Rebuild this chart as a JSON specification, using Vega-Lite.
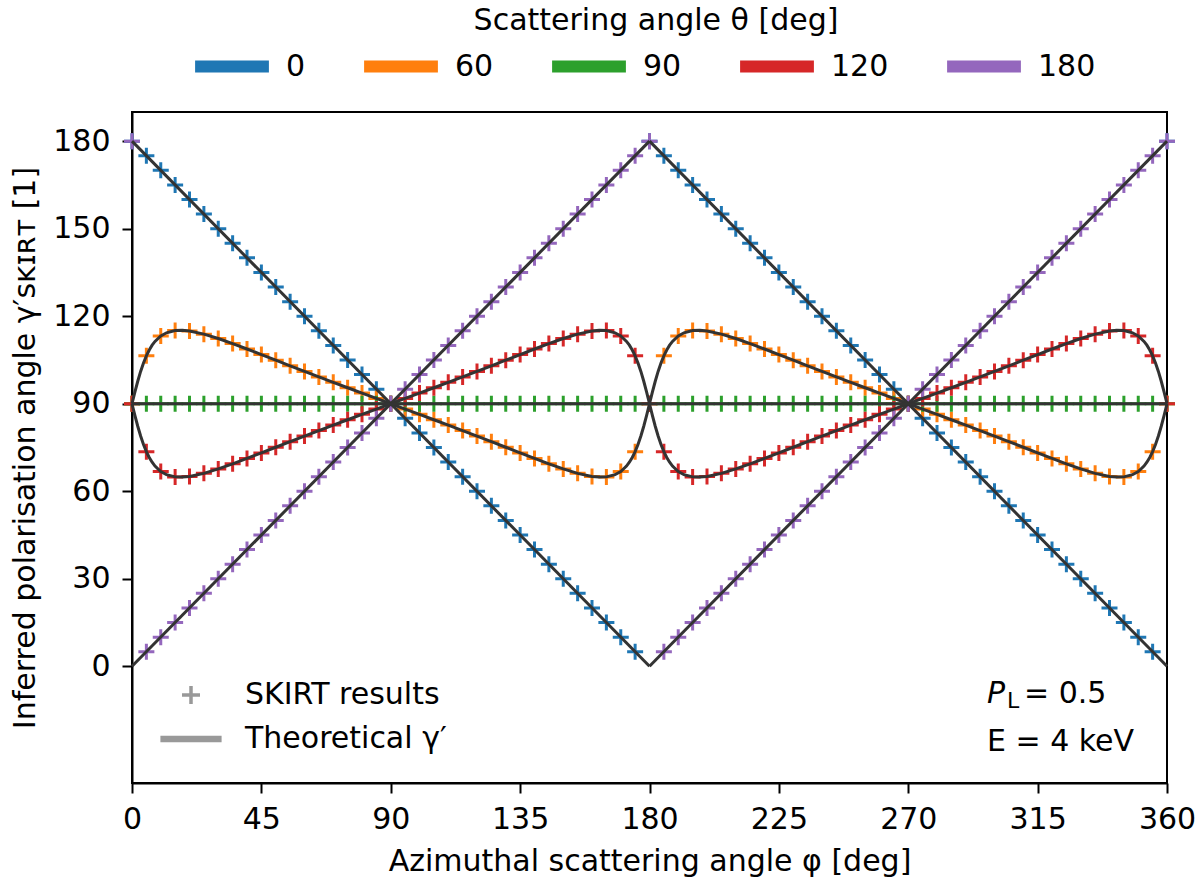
{
 "$schema": "https://vega.github.io/schema/vega-lite/v6.json",
 "width": 1035,
 "height": 671,
 "autosize": {"type": "none"},
 "padding": {"left": 132, "top": 112, "right": 33, "bottom": 101},
 "background": "#ffffff",
 "config": {
  "font": "DejaVu Sans",
  "view": {"stroke": "#000000", "strokeWidth": 2},
  "axis": {"grid": false, "domainColor": "#000000", "domainWidth": 2, "tickColor": "#000000", "tickWidth": 2, "tickSize": 10,
           "labelFontSize": 30, "labelColor": "#000000", "labelFont": "DejaVu Sans", "labelFlush": false, "labelOverlap": false,
           "titleFontSize": 30, "titleFontWeight": "normal", "titleColor": "#000000", "titleFont": "DejaVu Sans"},
  "legend": {"labelFont": "DejaVu Sans", "titleFont": "DejaVu Sans", "labelColor": "#000000", "titleColor": "#000000"}
 },
 "datasets": {
  "skirt": [
   {"p":0,"t0":180,"t60":90,"t90":90,"t120":90,"t180":180},
   {"p":5,"t0":175,"t60":106.42,"t90":90,"t120":73.58,"t180":5},
   {"p":10,"t0":170,"t60":113.22,"t90":90,"t120":66.78,"t180":10},
   {"p":15,"t0":165,"t60":115.07,"t90":90,"t120":64.93,"t180":15},
   {"p":20,"t0":160,"t60":114.92,"t90":90,"t120":65.08,"t180":20},
   {"p":25,"t0":155,"t60":113.86,"t90":90,"t120":66.14,"t180":25},
   {"p":30,"t0":150,"t60":112.35,"t90":90,"t120":67.65,"t180":30},
   {"p":35,"t0":145,"t60":110.61,"t90":90,"t120":69.39,"t180":35},
   {"p":40,"t0":140,"t60":108.76,"t90":90,"t120":71.24,"t180":40},
   {"p":45,"t0":135,"t60":106.85,"t90":90,"t120":73.15,"t180":45},
   {"p":50,"t0":130,"t60":104.92,"t90":90,"t120":75.08,"t180":50},
   {"p":55,"t0":125,"t60":103,"t90":90,"t120":77,"t180":55},
   {"p":60,"t0":120,"t60":101.09,"t90":90,"t120":78.91,"t180":60},
   {"p":65,"t0":115,"t60":99.2,"t90":90,"t120":80.8,"t180":65},
   {"p":70,"t0":110,"t60":97.33,"t90":90,"t120":82.67,"t180":70},
   {"p":75,"t0":105,"t60":95.48,"t90":90,"t120":84.52,"t180":75},
   {"p":80,"t0":100,"t60":93.64,"t90":90,"t120":86.36,"t180":80},
   {"p":85,"t0":95,"t60":91.82,"t90":90,"t120":88.18,"t180":85},
   {"p":90,"t0":90,"t60":90,"t90":90,"t120":90,"t180":90},
   {"p":95,"t0":85,"t60":88.18,"t90":90,"t120":91.82,"t180":95},
   {"p":100,"t0":80,"t60":86.36,"t90":90,"t120":93.64,"t180":100},
   {"p":105,"t0":75,"t60":84.52,"t90":90,"t120":95.48,"t180":105},
   {"p":110,"t0":70,"t60":82.67,"t90":90,"t120":97.33,"t180":110},
   {"p":115,"t0":65,"t60":80.8,"t90":90,"t120":99.2,"t180":115},
   {"p":120,"t0":60,"t60":78.91,"t90":90,"t120":101.09,"t180":120},
   {"p":125,"t0":55,"t60":77,"t90":90,"t120":103,"t180":125},
   {"p":130,"t0":50,"t60":75.08,"t90":90,"t120":104.92,"t180":130},
   {"p":135,"t0":45,"t60":73.15,"t90":90,"t120":106.85,"t180":135},
   {"p":140,"t0":40,"t60":71.24,"t90":90,"t120":108.76,"t180":140},
   {"p":145,"t0":35,"t60":69.39,"t90":90,"t120":110.61,"t180":145},
   {"p":150,"t0":30,"t60":67.65,"t90":90,"t120":112.35,"t180":150},
   {"p":155,"t0":25,"t60":66.14,"t90":90,"t120":113.86,"t180":155},
   {"p":160,"t0":20,"t60":65.08,"t90":90,"t120":114.92,"t180":160},
   {"p":165,"t0":15,"t60":64.93,"t90":90,"t120":115.07,"t180":165},
   {"p":170,"t0":10,"t60":66.78,"t90":90,"t120":113.22,"t180":170},
   {"p":175,"t0":5,"t60":73.58,"t90":90,"t120":106.42,"t180":175},
   {"p":180,"t0":180,"t60":90,"t90":90,"t120":90,"t180":180},
   {"p":185,"t0":175,"t60":106.42,"t90":90,"t120":73.58,"t180":5},
   {"p":190,"t0":170,"t60":113.22,"t90":90,"t120":66.78,"t180":10},
   {"p":195,"t0":165,"t60":115.07,"t90":90,"t120":64.93,"t180":15},
   {"p":200,"t0":160,"t60":114.92,"t90":90,"t120":65.08,"t180":20},
   {"p":205,"t0":155,"t60":113.86,"t90":90,"t120":66.14,"t180":25},
   {"p":210,"t0":150,"t60":112.35,"t90":90,"t120":67.65,"t180":30},
   {"p":215,"t0":145,"t60":110.61,"t90":90,"t120":69.39,"t180":35},
   {"p":220,"t0":140,"t60":108.76,"t90":90,"t120":71.24,"t180":40},
   {"p":225,"t0":135,"t60":106.85,"t90":90,"t120":73.15,"t180":45},
   {"p":230,"t0":130,"t60":104.92,"t90":90,"t120":75.08,"t180":50},
   {"p":235,"t0":125,"t60":103,"t90":90,"t120":77,"t180":55},
   {"p":240,"t0":120,"t60":101.09,"t90":90,"t120":78.91,"t180":60},
   {"p":245,"t0":115,"t60":99.2,"t90":90,"t120":80.8,"t180":65},
   {"p":250,"t0":110,"t60":97.33,"t90":90,"t120":82.67,"t180":70},
   {"p":255,"t0":105,"t60":95.48,"t90":90,"t120":84.52,"t180":75},
   {"p":260,"t0":100,"t60":93.64,"t90":90,"t120":86.36,"t180":80},
   {"p":265,"t0":95,"t60":91.82,"t90":90,"t120":88.18,"t180":85},
   {"p":270,"t0":90,"t60":90,"t90":90,"t120":90,"t180":90},
   {"p":275,"t0":85,"t60":88.18,"t90":90,"t120":91.82,"t180":95},
   {"p":280,"t0":80,"t60":86.36,"t90":90,"t120":93.64,"t180":100},
   {"p":285,"t0":75,"t60":84.52,"t90":90,"t120":95.48,"t180":105},
   {"p":290,"t0":70,"t60":82.67,"t90":90,"t120":97.33,"t180":110},
   {"p":295,"t0":65,"t60":80.8,"t90":90,"t120":99.2,"t180":115},
   {"p":300,"t0":60,"t60":78.91,"t90":90,"t120":101.09,"t180":120},
   {"p":305,"t0":55,"t60":77,"t90":90,"t120":103,"t180":125},
   {"p":310,"t0":50,"t60":75.08,"t90":90,"t120":104.92,"t180":130},
   {"p":315,"t0":45,"t60":73.15,"t90":90,"t120":106.85,"t180":135},
   {"p":320,"t0":40,"t60":71.24,"t90":90,"t120":108.76,"t180":140},
   {"p":325,"t0":35,"t60":69.39,"t90":90,"t120":110.61,"t180":145},
   {"p":330,"t0":30,"t60":67.65,"t90":90,"t120":112.35,"t180":150},
   {"p":335,"t0":25,"t60":66.14,"t90":90,"t120":113.86,"t180":155},
   {"p":340,"t0":20,"t60":65.08,"t90":90,"t120":114.92,"t180":160},
   {"p":345,"t0":15,"t60":64.93,"t90":90,"t120":115.07,"t180":165},
   {"p":350,"t0":10,"t60":66.78,"t90":90,"t120":113.22,"t180":170},
   {"p":355,"t0":5,"t60":73.58,"t90":90,"t120":106.42,"t180":175},
   {"p":360,"t0":180,"t60":90,"t90":90,"t120":90,"t180":180}
  ],
  "curve": [
   {"p":0,"a":90,"b":90},{"p":0.5,"a":92,"b":88},{"p":1,"a":93.96,"b":86.04},{"p":2,"a":97.71,"b":82.29},
   {"p":3,"a":101.07,"b":78.93},{"p":4,"a":103.98,"b":76.02},{"p":5,"a":106.42,"b":73.58},{"p":6,"a":108.43,"b":71.57},
   {"p":7,"a":110.06,"b":69.94},{"p":8,"a":111.36,"b":68.64},{"p":10,"a":113.22,"b":66.78},{"p":12,"a":114.32,"b":65.68},
   {"p":15,"a":115.07,"b":64.93},{"p":17.5,"a":115.15,"b":64.85},{"p":20,"a":114.92,"b":65.08},{"p":25,"a":113.86,"b":66.14},
   {"p":30,"a":112.35,"b":67.65},{"p":35,"a":110.61,"b":69.39},{"p":40,"a":108.76,"b":71.24},{"p":45,"a":106.85,"b":73.15},
   {"p":50,"a":104.92,"b":75.08},{"p":55,"a":103,"b":77},{"p":60,"a":101.09,"b":78.91},{"p":65,"a":99.2,"b":80.8},
   {"p":70,"a":97.33,"b":82.67},{"p":75,"a":95.48,"b":84.52},{"p":80,"a":93.64,"b":86.36},{"p":85,"a":91.82,"b":88.18},
   {"p":90,"a":90,"b":90},{"p":95,"a":88.18,"b":91.82},{"p":100,"a":86.36,"b":93.64},{"p":105,"a":84.52,"b":95.48},
   {"p":110,"a":82.67,"b":97.33},{"p":115,"a":80.8,"b":99.2},{"p":120,"a":78.91,"b":101.09},{"p":125,"a":77,"b":103},
   {"p":130,"a":75.08,"b":104.92},{"p":135,"a":73.15,"b":106.85},{"p":140,"a":71.24,"b":108.76},{"p":145,"a":69.39,"b":110.61},
   {"p":150,"a":67.65,"b":112.35},{"p":155,"a":66.14,"b":113.86},{"p":160,"a":65.08,"b":114.92},{"p":162.5,"a":64.85,"b":115.15},
   {"p":165,"a":64.93,"b":115.07},{"p":168,"a":65.68,"b":114.32},{"p":170,"a":66.78,"b":113.22},{"p":172,"a":68.64,"b":111.36},
   {"p":173,"a":69.94,"b":110.06},{"p":174,"a":71.57,"b":108.43},{"p":175,"a":73.58,"b":106.42},{"p":176,"a":76.02,"b":103.98},
   {"p":177,"a":78.93,"b":101.07},{"p":178,"a":82.29,"b":97.71},{"p":179,"a":86.04,"b":93.96},{"p":179.5,"a":88,"b":92},
   {"p":180,"a":90,"b":90},{"p":180.5,"a":92,"b":88},{"p":181,"a":93.96,"b":86.04},{"p":182,"a":97.71,"b":82.29},
   {"p":183,"a":101.07,"b":78.93},{"p":184,"a":103.98,"b":76.02},{"p":185,"a":106.42,"b":73.58},{"p":186,"a":108.43,"b":71.57},
   {"p":187,"a":110.06,"b":69.94},{"p":188,"a":111.36,"b":68.64},{"p":190,"a":113.22,"b":66.78},{"p":192,"a":114.32,"b":65.68},
   {"p":195,"a":115.07,"b":64.93},{"p":197.5,"a":115.15,"b":64.85},{"p":200,"a":114.92,"b":65.08},{"p":205,"a":113.86,"b":66.14},
   {"p":210,"a":112.35,"b":67.65},{"p":215,"a":110.61,"b":69.39},{"p":220,"a":108.76,"b":71.24},{"p":225,"a":106.85,"b":73.15},
   {"p":230,"a":104.92,"b":75.08},{"p":235,"a":103,"b":77},{"p":240,"a":101.09,"b":78.91},{"p":245,"a":99.2,"b":80.8},
   {"p":250,"a":97.33,"b":82.67},{"p":255,"a":95.48,"b":84.52},{"p":260,"a":93.64,"b":86.36},{"p":265,"a":91.82,"b":88.18},
   {"p":270,"a":90,"b":90},{"p":275,"a":88.18,"b":91.82},{"p":280,"a":86.36,"b":93.64},{"p":285,"a":84.52,"b":95.48},
   {"p":290,"a":82.67,"b":97.33},{"p":295,"a":80.8,"b":99.2},{"p":300,"a":78.91,"b":101.09},{"p":305,"a":77,"b":103},
   {"p":310,"a":75.08,"b":104.92},{"p":315,"a":73.15,"b":106.85},{"p":320,"a":71.24,"b":108.76},{"p":325,"a":69.39,"b":110.61},
   {"p":330,"a":67.65,"b":112.35},{"p":335,"a":66.14,"b":113.86},{"p":340,"a":65.08,"b":114.92},{"p":342.5,"a":64.85,"b":115.15},
   {"p":345,"a":64.93,"b":115.07},{"p":348,"a":65.68,"b":114.32},{"p":350,"a":66.78,"b":113.22},{"p":352,"a":68.64,"b":111.36},
   {"p":353,"a":69.94,"b":110.06},{"p":354,"a":71.57,"b":108.43},{"p":355,"a":73.58,"b":106.42},{"p":356,"a":76.02,"b":103.98},
   {"p":357,"a":78.93,"b":101.07},{"p":358,"a":82.29,"b":97.71},{"p":359,"a":86.04,"b":93.96},{"p":359.5,"a":88,"b":92},
   {"p":360,"a":90,"b":90}
  ],
  "seg": [
   {"p":0,"g":180,"s":"a"},{"p":180,"g":0,"s":"a"},
   {"p":180,"g":180,"s":"b"},{"p":360,"g":0,"s":"b"},
   {"p":0,"g":0,"s":"c"},{"p":180,"g":180,"s":"c"},
   {"p":180,"g":0,"s":"d"},{"p":360,"g":180,"s":"d"},
   {"p":0,"g":90,"s":"e"},{"p":360,"g":90,"s":"e"}
  ],
  "note": [{"pl": "= 0.5", "en": "E = 4 keV"}]
 },
 "layer": [
  {
   "data": {"name": "skirt"},
   "transform": [{"fold": ["t0","t60","t90","t120","t180"], "as": ["theta","g"]}],
   "mark": {"type": "point", "filled": false, "strokeWidth": 3, "size": 256, "opacity": 1},
   "encoding": {
    "x": {"field": "p", "type": "quantitative",
          "scale": {"domain": [0, 360], "nice": false, "zero": false},
          "axis": {"values": [0,45,90,135,180,225,270,315,360], "title": "Azimuthal scattering angle φ [deg]", "labelPadding": 11, "titlePadding": 12}},
    "y": {"field": "g", "type": "quantitative",
          "scale": {"domain": [-40, 190], "nice": false, "zero": false},
          "axis": {"values": [0,30,60,90,120,150,180], "title": "Inferred polarisation angle γ′ꜱᴋɪʀᴛ [1]", "labelPadding": 12, "titlePadding": 12}},
    "color": {"field": "theta", "type": "nominal",
     "scale": {"domain": ["t0","t60","t90","t120","t180"], "range": ["#1f77b4","#ff7f0e","#2ca02c","#d62728","#9467bd"]},
     "legend": {"orient": "none", "legendX": 85, "legendY": -106.5, "direction": "horizontal", "columns": 5,
       "title": "Scattering angle θ [deg]", "titleAnchor": "middle", "titleOrient": "top", "titleFontSize": 30, "titleFontWeight": "normal",
       "titlePadding": 16, "titleLimit": 1000, "labelFontSize": 30, "labelOffset": 39, "labelLimit": 300, "columnPadding": 34,
       "symbolType": "M-4.1,0L4.1,0", "symbolSize": 324, "symbolStrokeWidth": 12, "symbolOpacity": 1, "padding": 0,
       "labelExpr": "substring(datum.label, 1)"}},
    "shape": {"datum": "SKIRT results", "type": "nominal",
     "scale": {"domain": ["SKIRT results", "Theoretical γ′"], "range": ["M-1,0L1,0M0,-1L0,1", "M-3.4,0L3.4,0M-3.4,-0.17L3.4,-0.17M-3.4,0.17L3.4,0.17"]},
     "legend": {"orient": "none", "legendX": 44, "legendY": 568, "direction": "vertical", "title": null,
       "labelFontSize": 30, "labelOffset": 39, "labelLimit": 400, "rowPadding": 13, "symbolSize": 324,
       "symbolStrokeColor": "#999999", "symbolStrokeWidth": 3.5, "symbolOpacity": 1, "padding": 0}}
   }
  },
  {
   "data": {"name": "curve"},
   "transform": [{"fold": ["a","b"], "as": ["k","g"]}],
   "mark": {"type": "line", "color": "#333333", "strokeWidth": 3},
   "encoding": {
    "x": {"field": "p", "type": "quantitative"},
    "y": {"field": "g", "type": "quantitative"},
    "detail": {"field": "k"}}
  },
  {
   "data": {"name": "seg"},
   "mark": {"type": "line", "color": "#333333", "strokeWidth": 3},
   "encoding": {
    "x": {"field": "p", "type": "quantitative"},
    "y": {"field": "g", "type": "quantitative"},
    "detail": {"field": "s"}}
  },
  {
   "data": {"name": "note"},
   "mark": {"type": "text", "text": "P", "fontStyle": "italic", "fontSize": 30, "align": "left", "baseline": "alphabetic", "color": "#000000"},
   "encoding": {"x": {"datum": 297.4}, "y": {"datum": -12.7}}
  },
  {
   "data": {"name": "note"},
   "mark": {"type": "text", "text": "L", "fontSize": 22, "align": "left", "baseline": "alphabetic", "dx": 20, "dy": 5, "color": "#000000"},
   "encoding": {"x": {"datum": 297.4}, "y": {"datum": -12.7}}
  },
  {
   "data": {"name": "note"},
   "mark": {"type": "text", "fontSize": 30, "align": "left", "baseline": "alphabetic", "dx": 37, "color": "#000000"},
   "encoding": {"x": {"datum": 297.4}, "y": {"datum": -12.7}, "text": {"field": "pl"}}
  },
  {
   "data": {"name": "note"},
   "mark": {"type": "text", "fontSize": 30, "align": "left", "baseline": "alphabetic", "color": "#000000"},
   "encoding": {"x": {"datum": 297.4}, "y": {"datum": -28.9}, "text": {"field": "en"}}
  }
 ]
}
